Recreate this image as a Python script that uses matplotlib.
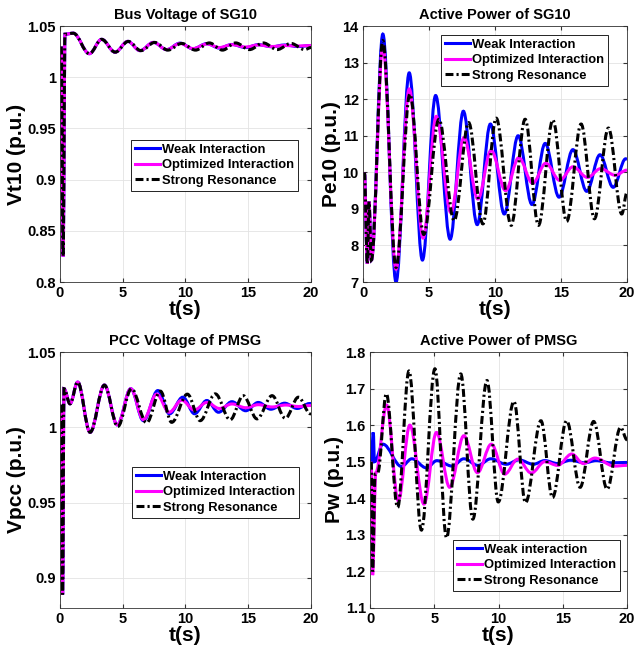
import numpy as np
import matplotlib
matplotlib.use('Agg')
import matplotlib.pyplot as plt
from matplotlib.path import Path
from matplotlib.patches import PathPatch
from matplotlib.lines import Line2D

plt.rcParams['font.family'] = ['Liberation Sans', 'DejaVu Sans']
plt.rcParams['font.weight'] = 'bold'

# ---- Bus voltage of SG10 (extrema) ----
vt_t_weak = [0.1, 0.25, 0.4, 1.06, 2.34, 3.32, 4.39, 5.4, 6.38, 7.45, 8.5, 9.57, 10.6, 11.7, 12.7, 13.7, 14.8, 15.8, 16.9, 17.9, 19.0, 20.0]
vt_weak   = [1.030, 0.825, 1.042, 1.043, 1.023, 1.037, 1.0245, 1.035, 1.026, 1.034, 1.027, 1.0333, 1.0278, 1.0328, 1.0285, 1.032, 1.029, 1.0318, 1.0298, 1.0315, 1.030, 1.031]
vt_t_opt  = vt_t_weak
vt_opt    = [1.030, 0.825, 1.042, 1.043, 1.023, 1.037, 1.0245, 1.035, 1.026, 1.034, 1.027, 1.033, 1.028, 1.0325, 1.029, 1.0318, 1.0295, 1.0315, 1.030, 1.031, 1.0305, 1.031]
vt_t_str  = [0.1, 0.25, 0.4, 1.06, 2.34, 3.32, 4.4, 5.45, 6.45, 7.55, 8.6, 9.7, 10.8, 11.9, 12.95, 14.0, 15.1, 16.2, 17.3, 18.4, 19.5, 20.0]
vt_str    = [1.030, 0.825, 1.042, 1.043, 1.023, 1.037, 1.0245, 1.035, 1.026, 1.034, 1.0265, 1.033, 1.0265, 1.0335, 1.0265, 1.0335, 1.027, 1.0335, 1.027, 1.033, 1.027, 1.029]

# ---- Active power of SG10 ----
pe_t_weak = [0.1, 0.33, 0.45, 0.63, 1.5, 2.5, 3.5, 4.5, 5.5, 6.6, 7.6, 8.65, 9.65, 10.7, 11.75, 12.8, 13.8, 14.85, 15.9, 16.95, 17.95, 18.95, 19.9, 20.0]
pe_weak   = [10.0, 7.5, 9.2, 7.6, 13.78, 7.0, 12.72, 7.6, 12.1, 8.17, 11.67, 8.57, 11.32, 8.86, 11.0, 9.12, 10.79, 9.32, 10.62, 9.48, 10.48, 9.59, 10.37, 10.36]
pe_t_opt  = [0.1, 0.33, 0.45, 0.63, 1.5, 2.5, 3.5, 4.55, 5.55, 6.65, 7.65, 8.7, 9.7, 10.8, 11.8, 12.85, 13.85, 14.9, 15.9, 17.0, 18.0, 19.1, 20.0]
pe_opt    = [10.0, 7.5, 9.2, 7.6, 13.45, 7.35, 12.28, 8.2, 11.53, 8.9, 10.95, 9.27, 10.6, 9.5, 10.4, 9.7, 10.25, 9.78, 10.15, 9.86, 10.1, 9.92, 10.06]
pe_t_str  = [0.1, 0.33, 0.45, 0.63, 1.5, 2.5, 3.55, 4.6, 5.75, 6.9, 8.0, 9.08, 10.09, 11.22, 12.28, 13.29, 14.38, 15.43, 16.52, 17.53, 18.59, 19.6, 20.0]
pe_str    = [10.0, 7.5, 9.2, 7.6, 13.6, 7.4, 12.14, 8.3, 11.45, 8.68, 11.36, 8.59, 11.48, 8.55, 11.45, 8.55, 11.43, 8.66, 11.32, 8.73, 11.21, 8.86, 9.45]

# ---- PCC voltage of PMSG ----
vp_t_weak = [0.1, 0.21, 0.32, 0.8, 1.41, 2.4, 3.54, 4.57, 5.64, 6.65, 7.8, 8.72, 9.79, 10.72, 11.7, 12.63, 13.7, 14.8, 15.8, 16.8, 17.9, 18.9, 19.9, 20.0]
vp_weak   = [1.015, 0.889, 1.0256, 1.0156, 1.030, 0.9967, 1.028, 1.0016, 1.0256, 1.0044, 1.0244, 1.0089, 1.020, 1.009, 1.0178, 1.010, 1.017, 1.011, 1.0165, 1.012, 1.016, 1.0125, 1.0158, 1.0158]
vp_t_opt  = [0.1, 0.21, 0.32, 0.8, 1.41, 2.4, 3.54, 4.57, 5.64, 6.65, 7.7, 8.7, 9.7, 10.7, 11.7, 12.7, 13.7, 14.8, 15.8, 16.9, 18.0, 19.0, 20.0]
vp_opt    = [1.015, 0.889, 1.0256, 1.0156, 1.030, 0.9967, 1.028, 1.0016, 1.0256, 1.0050, 1.022, 1.010, 1.018, 1.0115, 1.0165, 1.0125, 1.0155, 1.013, 1.015, 1.0135, 1.0148, 1.0138, 1.0145]
vp_t_str  = [0.1, 0.21, 0.32, 0.8, 1.41, 2.4, 3.54, 4.6, 5.7, 6.9, 8.0, 8.9, 10.15, 11.17, 12.37, 13.56, 14.6, 15.7, 16.9, 17.95, 19.0, 19.95, 20.0]
vp_str    = [1.015, 0.889, 1.0256, 1.0156, 1.030, 0.9967, 1.028, 1.0005, 1.0256, 1.003, 1.024, 1.0033, 1.022, 1.0044, 1.0222, 1.005, 1.021, 1.0056, 1.021, 1.006, 1.020, 1.009, 1.0095]

# ---- Active power of PMSG ----
pw_t_weak = [0.1, 0.25, 0.35, 1.0, 2.45, 3.25, 4.4, 5.2, 6.4, 7.3, 8.4, 9.4, 10.6, 11.6, 12.7, 13.6, 14.6, 15.6, 16.7, 17.6, 18.7, 20.0]
pw_weak   = [1.50, 1.58, 1.50, 1.548, 1.487, 1.508, 1.483, 1.503, 1.488, 1.508, 1.49, 1.508, 1.493, 1.505, 1.493, 1.503, 1.495, 1.504, 1.497, 1.503, 1.497, 1.498]
pw_t_opt  = [0.1, 0.2, 0.45, 1.29, 2.2, 3.1, 4.2, 5.17, 6.2, 7.3, 8.36, 9.44, 10.48, 11.5, 12.55, 13.6, 14.6, 15.7, 16.6, 17.5, 19.0, 20.0]
pw_opt    = [1.50, 1.19, 1.47, 1.655, 1.393, 1.60, 1.384, 1.58, 1.43, 1.571, 1.47, 1.548, 1.466, 1.507, 1.469, 1.50, 1.49, 1.521, 1.495, 1.51, 1.488, 1.49]
pw_t_str  = [0.1, 0.2, 0.4, 0.6, 1.27, 2.15, 3.03, 4.0, 5.05, 5.95, 7.06, 8.0, 9.1, 9.98, 11.2, 12.1, 13.3, 14.2, 15.3, 16.35, 17.4, 18.45, 19.5, 20.0]
pw_str    = [1.50, 1.20, 1.466, 1.47, 1.686, 1.375, 1.748, 1.313, 1.754, 1.292, 1.74, 1.343, 1.722, 1.39, 1.665, 1.388, 1.612, 1.402, 1.612, 1.43, 1.61, 1.425, 1.594, 1.56]

labels_a = ['Weak Interaction', 'Optimized Interaction', 'Strong Resonance']
labels_b = ['Weak interaction', 'Optimized Interaction', 'Strong Resonance']
colors = ['#0000ff', '#ff00ff', 'black']
styles = ['-', '-', (0, (2.6, 1.0, 0.7, 1.0))]


def smooth(ax, t, y, **kw):
    # cubic bezier through the read extrema, flat tangent at each one
    verts = [(t[0], y[0])]
    codes = [Path.MOVETO]
    for i in range(1, len(t)):
        d = (t[i] - t[i - 1]) * 0.36
        verts += [(t[i - 1] + d, y[i - 1]), (t[i] - d, y[i]), (t[i], y[i])]
        codes += [Path.CURVE4] * 3
    ax.add_patch(PathPatch(Path(verts, codes), fill=False, **kw))


def panel(rect, series, title, ylab, ylim, yticks, ytl, labels, leg_xy):
    ax = fig.add_axes(rect)
    for (t, y), c, ls in zip(series, colors, styles):
        smooth(ax, t, y, edgecolor=c, linestyle=ls, linewidth=2.2, capstyle='butt')
    ax.set_xlim(0, 20)
    ax.set_ylim(*ylim)
    ax.set_xticks([0, 5, 10, 15, 20])
    ax.set_yticks(yticks)
    ax.set_yticklabels(ytl)
    ax.grid(True, color='#e3e3e3', linewidth=0.6)
    ax.set_axisbelow(True)
    ax.tick_params(direction='in', length=3, top=True, right=True, labelsize=10.5,
                   color='#333333', pad=3)
    for s in ax.spines.values():
        s.set_color('#333333')
        s.set_linewidth(0.6)
    ax.set_title(title, fontsize=10.5, fontweight='bold', pad=5)
    ax.set_xlabel('t(s)', fontsize=15, fontweight='bold', labelpad=0)
    ax.set_ylabel(ylab, fontsize=15, fontweight='bold', labelpad=1)
    handles = [Line2D([], [], color=c, linestyle=ls, linewidth=2.2) for c, ls in zip(colors, styles)]
    leg = ax.legend(handles, labels, loc='upper left', bbox_to_anchor=leg_xy, borderaxespad=0,
                    fancybox=False, edgecolor='black', framealpha=1, prop={'size': 9.4, 'weight': 'bold'},
                    handlelength=1.9, handletextpad=0.15, labelspacing=0.25, borderpad=0.3)
    leg.get_frame().set_linewidth(0.6)
    return ax


fig = plt.figure(figsize=(6.36, 6.56), dpi=100)

panel([0.0943, 0.5701, 0.3947, 0.3902],
      [(vt_t_weak, vt_weak), (vt_t_opt, vt_opt), (vt_t_str, vt_str)],
      'Bus Voltage of SG10', 'Vt10 (p.u.)', (0.8, 1.05),
      [0.8, 0.85, 0.9, 0.95, 1.0, 1.05], ['0.8', '0.85', '0.9', '0.95', '1', '1.05'],
      labels_a, (0.283, 0.555))

panel([0.5708, 0.5701, 0.4151, 0.3902],
      [(pe_t_weak, pe_weak), (pe_t_opt, pe_opt), (pe_t_str, pe_str)],
      'Active Power of SG10', 'Pe10 (p.u.)', (7, 14),
      [7, 8, 9, 10, 11, 12, 13, 14], ['7', '8', '9', '10', '11', '12', '13', '14'],
      labels_a, (0.295, 0.965))

panel([0.0943, 0.0732, 0.3947, 0.3902],
      [(vp_t_weak, vp_weak), (vp_t_opt, vp_opt), (vp_t_str, vp_str)],
      'PCC Voltage of PMSG', 'Vpcc (p.u.)', (0.88, 1.05),
      [0.9, 0.95, 1.0, 1.05], ['0.9', '0.95', '1', '1.05'],
      labels_a, (0.287, 0.551))

panel([0.5818, 0.0732, 0.4041, 0.3902],
      [(pw_t_weak, pw_weak), (pw_t_opt, pw_opt), (pw_t_str, pw_str)],
      'Active Power of PMSG', 'Pw (p.u.)', (1.1, 1.8),
      [1.1, 1.2, 1.3, 1.4, 1.5, 1.6, 1.7, 1.8], ['1.1', '1.2', '1.3', '1.4', '1.5', '1.6', '1.7', '1.8'],
      labels_b, (0.323, 0.266))

fig.savefig('out.png', dpi=100)
